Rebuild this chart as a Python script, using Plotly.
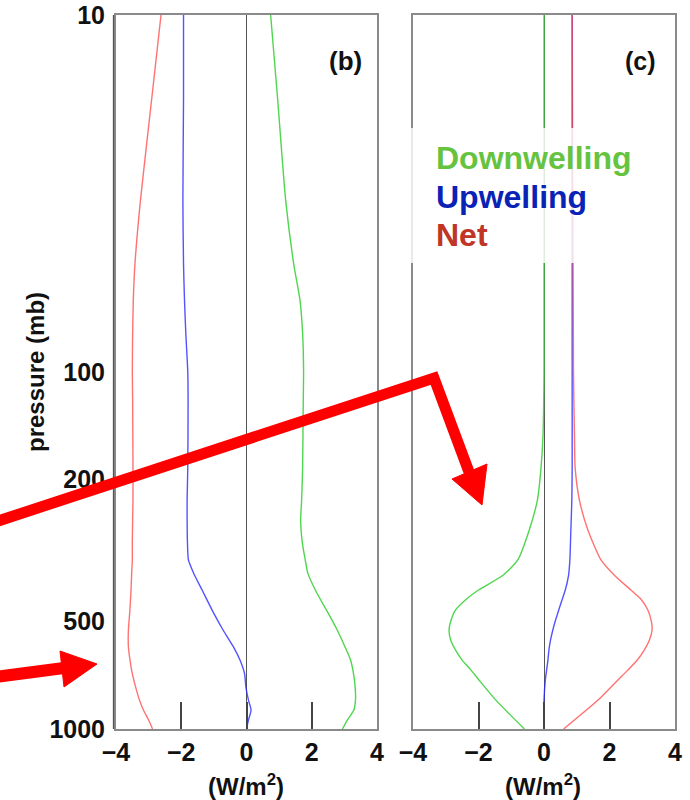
import plotly.graph_objects as go

# ---------------- data ----------------
pressure_b = [10, 17, 33, 50, 63, 78, 100, 120, 185, 228, 260, 300, 336, 366,
              410, 473, 528, 589, 641, 700, 762, 830, 885, 944, 1000]
net_b = [-2.62, -2.9, -3.25, -3.42, -3.47, -3.49, -3.5, -3.49, -3.48, -3.48, -3.49, -3.5, -3.5, -3.52,
         -3.54, -3.58, -3.62, -3.62, -3.57, -3.5, -3.4, -3.28, -3.16, -3.0, -2.88]
up_b = [-1.93, -1.93, -1.95, -1.93, -1.9, -1.86, -1.8, -1.79, -1.8, -1.82, -1.82, -1.81, -1.78, -1.62,
        -1.35, -1.01, -0.72, -0.4, -0.2, -0.06, -0.02, 0.06, 0.14, 0.06, 0.0]
down_b = [0.74, 0.95, 1.2, 1.45, 1.64, 1.72, 1.75, 1.74, 1.72, 1.69, 1.66, 1.71, 1.8, 1.88,
          2.12, 2.5, 2.78, 3.02, 3.19, 3.28, 3.33, 3.34, 3.29, 3.09, 2.94]

pressure_c = [10, 100, 150, 185, 228, 277, 336, 371, 408, 435, 464, 500, 528, 563,
              601, 641, 684, 730, 830, 1000]
down_c = [0.0, 0.0, -0.03, -0.09, -0.2, -0.45, -0.8, -1.25, -2.0, -2.4, -2.7, -2.85, -2.9, -2.85,
          -2.7, -2.5, -2.23, -1.98, -1.47, -0.6]
up_c = [0.86, 0.86, 0.86, 0.86, 0.85, 0.82, 0.79, 0.75, 0.65, 0.55, 0.45, 0.34, 0.27, 0.2,
        0.15, 0.12, 0.08, 0.04, 0.0, 0.0]
net_c = [0.86, 0.9, 0.93, 0.95, 1.08, 1.34, 1.74, 2.15, 2.65, 2.98, 3.17, 3.28, 3.3, 3.22,
         3.06, 2.85, 2.56, 2.25, 1.65, 0.6]

y_tickvals = [10, 100, 200, 500, 1000]
y_ticktext = ["10", "100", "200", "500", "1000"]
x_tickvals = [-4, -2, 0, 2, 4]
x_ticktext = ["\u22124", "\u22122", "0", "2", "4"]
legend_labels = ["Downwelling", "Upwelling", "Net"]

# ---------------- style ----------------
W, H = 690, 800
FONT = "Liberation Sans, Arial, Helvetica, sans-serif"
C_DOWN, C_UP, C_NET = "rgba(60,210,60,0.9)", "rgba(40,40,255,0.8)", "rgba(255,60,60,0.72)"
LEG_COLORS = ["#66c33f", "#0a22b5", "#c03525"]

def px(x):
    return x / W

def py(y):
    return 1 - y / H

fig = go.Figure()
for xa, p, d, u, n in [("x", pressure_b, down_b, up_b, net_b),
                        ("x2", pressure_c, down_c, up_c, net_c)]:
    ya = "y" if xa == "x" else "y2"
    for vals, col in [(d, C_DOWN), (u, C_UP), (n, C_NET)]:
        fig.add_trace(go.Scatter(x=vals, y=p, mode="lines", xaxis=xa, yaxis=ya,
                                 line=dict(color=col, width=1.4, shape="spline", smoothing=0.6),
                                 showlegend=False, hoverinfo="skip"))

xcommon = dict(range=[-4, 4], tickvals=x_tickvals, ticktext=x_ticktext,
               ticks="inside", ticklen=27, tickwidth=1.5, tickcolor="#444",
               showline=True, linecolor="#8a8a8a", linewidth=2, mirror=True,
               showgrid=False, zeroline=True, zerolinecolor="#555", zerolinewidth=1.3,
               tickfont=dict(family=FONT, size=25, color="#111", weight="bold"),
               automargin=False, fixedrange=True)
ycommon = dict(type="log", range=[3, 1], tickvals=y_tickvals, ticktext=y_ticktext,
               ticks="", showline=True, linecolor="#8a8a8a", linewidth=2, mirror=True,
               showgrid=False, zeroline=False,
               tickfont=dict(family=FONT, size=25, color="#111", weight="bold"),
               domain=[py(729), py(15)], automargin=False, fixedrange=True)

fig.update_layout(
    width=W, height=H, margin=dict(l=0, r=0, t=0, b=0, autoexpand=False),
    paper_bgcolor="white", plot_bgcolor="white",
    xaxis=dict(domain=[px(116), px(377)], anchor="y", **xcommon),
    xaxis2=dict(domain=[px(413), px(675)], anchor="y2", **xcommon),
    yaxis=dict(anchor="x", showticklabels=True, ticklabelstandoff=4, **ycommon),
    yaxis2=dict(anchor="x2", showticklabels=False, **ycommon),
)

def label(text, x, y, size, color="#111", angle=0, xanchor="center"):
    return dict(text=text, x=px(x), y=py(y), xref="paper", yref="paper",
                xanchor=xanchor, yanchor="middle", textangle=angle, showarrow=False,
                font=dict(family=FONT, size=size, color=color))

ann = [
    label("<b>(b)</b>", 345, 61, 26),
    label("<b>(c)</b>", 640, 61, 25),
    label("<b>pressure (mb)</b>", 35, 372, 24, angle=-90),
]
for cx in (246, 543):
    ann.append(label("<b>(W/m<sup>2</sup>)</b>", cx, 785, 24))
for lab, col, yy in zip(legend_labels, LEG_COLORS, [158, 197, 235]):
    ann.append(label("<b>" + lab + "</b>", 434, yy, 32, color=col, xanchor="left"))
fig.update_layout(annotations=ann)

RED = "#ff0000"
shapes = [
    # translucent box behind legend
    dict(type="rect", xref="paper", yref="paper", x0=px(405), x1=px(632), y0=py(263), y1=py(128),
         fillcolor="rgba(255,255,255,0.82)", line=dict(width=0), layer="above"),
    # second y axis line (double edge)
    dict(type="line", xref="paper", yref="paper", x0=px(113.5), x1=px(113.5), y0=py(15), y1=py(729),
         line=dict(color="#555", width=1.3)),
    # arrow 1
    dict(type="path", xref="paper", yref="paper",
         path=f"M {px(-5)},{py(522)} L {px(434)},{py(378)} L {px(469)},{py(472)}",
         line=dict(color=RED, width=11), layer="above"),
    dict(type="path", xref="paper", yref="paper",
         path=f"M {px(452)},{py(479)} L {px(487)},{py(464)} L {px(482)},{py(505)} Z",
         fillcolor=RED, line=dict(color=RED, width=1), layer="above"),
    # arrow 2
    dict(type="path", xref="paper", yref="paper",
         path=f"M {px(-5)},{py(677)} L {px(64)},{py(668)}",
         line=dict(color=RED, width=12), layer="above"),
    dict(type="path", xref="paper", yref="paper",
         path=f"M {px(60)},{py(651)} L {px(64)},{py(687)} L {px(97)},{py(664)} Z",
         fillcolor=RED, line=dict(color=RED, width=1), layer="above"),
]
fig.update_layout(shapes=shapes)

fig.write_html("out.html")
